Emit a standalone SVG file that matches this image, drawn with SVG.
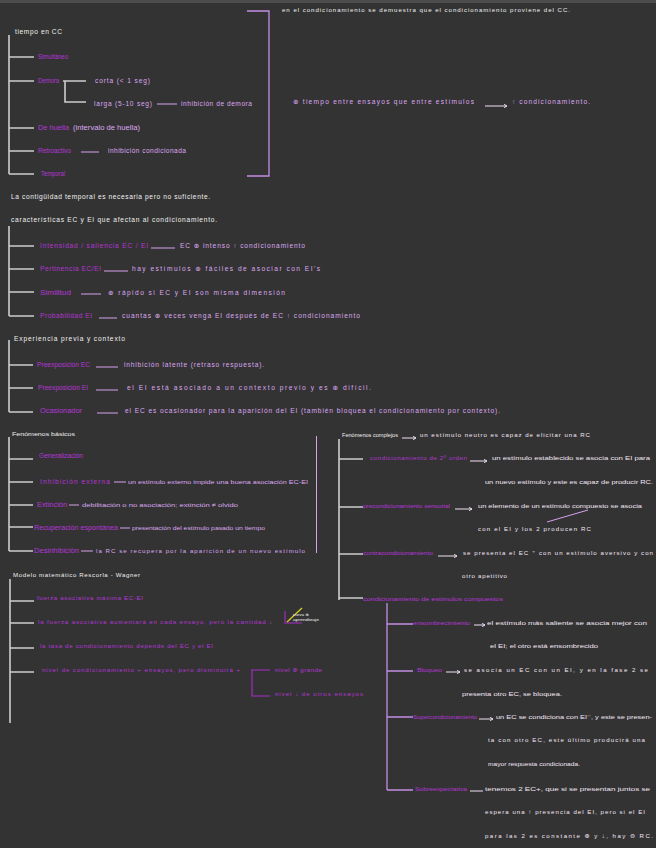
<svg xmlns="http://www.w3.org/2000/svg" width="656" height="848" viewBox="0 0 656 848">
<defs>
<style>
text{font-family:"Liberation Sans","DejaVu Sans",sans-serif;font-size:6.6px}
.w{fill:#f0f0f0}
.p{fill:#b435d6}
.k{fill:#dca8f0}
.l{fill:#f3e8f5}
.s{font-size:6.1px}
.t{stroke:#cdcdcd;stroke-width:1.6;fill:none}
.b{stroke:#c48fe4;stroke-width:1.3;fill:none}
.u{stroke:#d8a2ec;stroke-width:1;fill:none}
.v{stroke:#f0e2f3;stroke-width:1;fill:none}
.m{stroke:#a92ccb;stroke-width:1.1;fill:none}
</style>
<marker id="ah" markerWidth="4" markerHeight="4" refX="3" refY="2" orient="auto" markerUnits="userSpaceOnUse">
<path d="M0,0.3 L3,2 L0,3.7" fill="none" stroke="#f0e2f3" stroke-width="0.9"/>
</marker>
</defs>
<rect width="656" height="848" fill="#333333"/>
<rect width="656" height="3" fill="#4c4c4c"/>

<g id="connectors">
<path class="t" d="M9,35V174M9,57H34M9,81H34M9,128H34M9,151H34M9,174H34"/>
<path class="t" d="M63,81H86M65,81V102H86"/>
<path class="u" d="M157,104H177M81,152H99"/>
<path class="b" d="M247,11H269V176H247"/>
<path class="v" d="M485,106H507" marker-end="url(#ah)"/>
<path class="t" d="M9,226V316M9,246H34M9,269H34M9,292H34M9,316H34"/>
<path class="u" d="M151,248H175M104,271H128M81,294H101M99,318H117"/>
<path class="t" d="M9,340V412M9,365H33M9,388H33M9,412H33"/>
<path class="u" d="M96,367H118M96,390H118M97,413H118"/>
<path class="t" d="M9,437V551M9,459H33M9,482H33M9,505H33M9,527H33M9,551H33"/>
<path class="u" d="M114,482H126M69,505H79M120,528H130M81,551H93"/>
<path class="u" d="M316.5,436V553"/>
<path class="t" d="M339,439V600M339,459H363M339,507H363M339,554H363M339,598H363"/>
<path class="v" d="M402,438H416" marker-end="url(#ah)"/>
<path class="v" d="M470,461H487" marker-end="url(#ah)"/>
<path class="v" d="M455,509H472" marker-end="url(#ah)"/>
<path class="v" d="M438,556H457" marker-end="url(#ah)"/>
<path class="u" d="M547,522L588,510"/>
<path class="b" d="M387,603V790M387,624H413M387,671H413M387,717H413M387,790H413"/>
<path class="v" d="M474,625H485" marker-end="url(#ah)"/>
<path class="v" d="M446,672H460" marker-end="url(#ah)"/>
<path class="v" d="M479,719H493" marker-end="url(#ah)"/>
<path class="v" d="M470,791H483"/>
<path class="t" d="M10,579V723M10,601H34M10,623H34M10,648H34M10,672H34"/>
<path class="m" d="M251,670H270M252,670V696H270"/>
<path class="m" d="M285,611V623H302"/>
<path d="M287,622L302,608" stroke="#d6cf2a" stroke-width="1.3" fill="none"/>
</g>

<g id="note-top"><text class="w s" x="282" y="12" textLength="288" lengthAdjust="spacing">en el condicionamiento se demuestra que el condicionamiento proviene del CC.</text></g>

<g id="tiempo-cc"><text class="w" x="15" y="34" textLength="47" lengthAdjust="spacing">tiempo en CC</text></g>
<g id="simultaneo"><text class="p" x="38" y="59" textLength="30" lengthAdjust="spacingAndGlyphs">Simultáneo</text></g>
<g id="demora"><text class="p" x="38" y="83" textLength="21" lengthAdjust="spacingAndGlyphs">Demora</text></g>
<g id="corta"><text class="k" x="95" y="83" textLength="55" lengthAdjust="spacing">corta  (&lt; 1 seg)</text></g>
<g id="larga">
<text class="k" x="94" y="106" textLength="58" lengthAdjust="spacing">larga  (5-10 seg)</text>
<text class="k" x="181" y="106" textLength="71" lengthAdjust="spacing">inhibición de demora</text>
</g>
<g id="huella">
<text class="p" x="38" y="130" textLength="31" lengthAdjust="spacingAndGlyphs">De huella</text>
<text class="k" x="73" y="130" textLength="67" lengthAdjust="spacingAndGlyphs">(intervalo de huella)</text>
</g>
<g id="retroactivo">
<text class="p" x="38" y="153" textLength="33" lengthAdjust="spacingAndGlyphs">Retroactivo</text>
<text class="k" x="108" y="153" textLength="78" lengthAdjust="spacing">inhibición condicionada</text>
</g>
<g id="temporal"><text class="p" x="41" y="176" textLength="24" lengthAdjust="spacingAndGlyphs">Temporal</text></g>
<g id="tiempo-ensayos">
<text class="k" x="293" y="104" textLength="181" lengthAdjust="spacing">⊕ tiempo entre ensayos que entre estímulos</text>
<text class="k" x="512" y="104" textLength="78" lengthAdjust="spacing">↑ condicionamiento.</text>
</g>

<g id="contiguidad"><text class="w" x="11" y="199" textLength="199" lengthAdjust="spacing">La contigüidad temporal es necesaria pero no suficiente.</text></g>
<g id="caracteristicas"><text class="w" x="11" y="222" textLength="206" lengthAdjust="spacing">características EC y EI que afectan al condicionamiento.</text></g>
<g id="intensidad">
<text class="p" x="40" y="248" textLength="108" lengthAdjust="spacing">Intensidad / saliencia  EC / EI</text>
<text class="k" x="180" y="248" textLength="125" lengthAdjust="spacing">EC ⊕ intenso ↑ condicionamiento</text>
</g>
<g id="pertinencia">
<text class="p" x="40" y="271" textLength="61" lengthAdjust="spacing">Pertinencia  EC/EI</text>
<text class="k" x="132" y="271" textLength="188" lengthAdjust="spacing">hay estímulos ⊕ fáciles de asociar con EI's</text>
</g>
<g id="similitud">
<text class="p" x="40" y="295" textLength="31" lengthAdjust="spacingAndGlyphs">Similitud</text>
<text class="k" x="108" y="295" textLength="177" lengthAdjust="spacing">⊕ rápido si EC y EI son misma dimensión</text>
</g>
<g id="probabilidad">
<text class="p" x="40" y="318" textLength="52" lengthAdjust="spacing">Probabilidad EI</text>
<text class="k" x="122" y="318" textLength="238" lengthAdjust="spacing">cuantas ⊕ veces venga EI después de EC ↑ condicionamiento</text>
</g>

<g id="experiencia"><text class="w" x="14" y="341" textLength="111" lengthAdjust="spacing">Experiencia  previa  y  contexto</text></g>
<g id="preexp-ec">
<text class="p" x="37" y="367" textLength="53" lengthAdjust="spacingAndGlyphs">Preexposición  EC</text>
<text class="k" x="124" y="367" textLength="140" lengthAdjust="spacing">inhibición latente (retraso respuesta).</text>
</g>
<g id="preexp-ei">
<text class="p" x="38" y="390" textLength="50" lengthAdjust="spacingAndGlyphs">Preexposición  EI</text>
<text class="k" x="127" y="390" textLength="244" lengthAdjust="spacing">el EI está asociado a un contexto previo y es ⊕ difícil.</text>
</g>
<g id="ocasionador">
<text class="p" x="40" y="413" textLength="42" lengthAdjust="spacingAndGlyphs">Ocasionador</text>
<text class="k" x="125" y="413" textLength="375" lengthAdjust="spacing">el EC es ocasionador para la aparición del EI (también bloquea el condicionamiento por contexto).</text>
</g>

<g id="basicos"><text class="w s" x="12" y="436" textLength="63" lengthAdjust="spacingAndGlyphs">Fenómenos básicos</text></g>
<g id="generalizacion"><text class="p" x="39" y="458" textLength="44" lengthAdjust="spacingAndGlyphs">Generalización</text></g>
<g id="inhibicion-externa">
<text class="p" x="40" y="484" textLength="70" lengthAdjust="spacing">Inhibición  externa</text>
<text class="k s" x="128" y="484" textLength="180" lengthAdjust="spacingAndGlyphs">un estímulo externo impide una buena asociación EC-EI</text>
</g>
<g id="extincion">
<text class="p" x="37" y="507" textLength="30" lengthAdjust="spacingAndGlyphs">Extinción</text>
<text class="k s" x="82" y="507" textLength="156" lengthAdjust="spacingAndGlyphs">debilitación o no asociación; extinción ≠ olvido</text>
</g>
<g id="recuperacion">
<text class="p" x="34" y="530" textLength="84" lengthAdjust="spacingAndGlyphs">Recuperación  espontánea</text>
<text class="k s" x="132" y="530" textLength="133" lengthAdjust="spacingAndGlyphs">presentación del estímulo pasado un tiempo</text>
</g>
<g id="desinhibicion">
<text class="p" x="34" y="553" textLength="45" lengthAdjust="spacingAndGlyphs">Desinhibición</text>
<text class="k s" x="96" y="553" textLength="209" lengthAdjust="spacing">la RC se recupera por la aparición de un nuevo estímulo</text>
</g>

<g id="complejos">
<text class="w s" x="342" y="437" textLength="56" lengthAdjust="spacingAndGlyphs">Fenómenos complejos</text>
<text class="l s" x="420" y="437" textLength="170" lengthAdjust="spacing">un estímulo neutro es capaz de elicitar una RC</text>
</g>
<g id="segundo-orden">
<text class="p s" x="370" y="460" textLength="97" lengthAdjust="spacing">condicionamiento de 2º orden</text>
<text class="l s" x="492" y="460" textLength="158" lengthAdjust="spacingAndGlyphs">un estímulo establecido se asocia con EI para</text>
<text class="l s" x="485" y="484" textLength="168" lengthAdjust="spacingAndGlyphs">un nuevo estímulo y este es capaz de producir RC.</text>
</g>
<g id="precondicionamiento">
<text class="p s" x="363" y="508" textLength="87" lengthAdjust="spacingAndGlyphs">precondicionamiento  sensorial</text>
<text class="l s" x="478" y="508" textLength="164" lengthAdjust="spacingAndGlyphs">un elemento de un estímulo compuesto se asocia</text>
<text class="l s" x="478" y="531" textLength="113" lengthAdjust="spacing">con el EI y los 2 producen RC</text>
</g>
<g id="contracondicionamiento">
<text class="p s" x="363" y="555" textLength="70" lengthAdjust="spacingAndGlyphs">contracondicionamiento</text>
<text class="l s" x="463" y="555" textLength="190" lengthAdjust="spacing">se presenta el EC ⁺ con un estímulo aversivo y con</text>
<text class="l s" x="462" y="578" textLength="45" lengthAdjust="spacing">otro apetitivo</text>
</g>
<g id="compuestos"><text class="p s" x="363" y="601" textLength="140" lengthAdjust="spacingAndGlyphs">condicionamiento de estímulos compuestos</text></g>
<g id="ensombrecimiento">
<text class="p s" x="413" y="625" textLength="57" lengthAdjust="spacingAndGlyphs">ensombrecimiento</text>
<text class="l s" x="487" y="625" textLength="160" lengthAdjust="spacingAndGlyphs">el estímulo más saliente se asocia mejor con</text>
<text class="l s" x="490" y="648" textLength="108" lengthAdjust="spacingAndGlyphs">el EI; el otro está ensombrecido</text>
</g>
<g id="bloqueo">
<text class="p s" x="417" y="672" textLength="25" lengthAdjust="spacingAndGlyphs">Bloqueo</text>
<text class="l s" x="464" y="672" textLength="184" lengthAdjust="spacing">se asocia un EC con un EI, y en la fase 2 se</text>
<text class="l s" x="462" y="696" textLength="100" lengthAdjust="spacingAndGlyphs">presenta otro EC, se bloquea.</text>
</g>
<g id="supercondicionamiento">
<text class="p s" x="413" y="719" textLength="64" lengthAdjust="spacingAndGlyphs">Supercondicionamiento</text>
<text class="l s" x="496" y="719" textLength="156" lengthAdjust="spacingAndGlyphs">un EC se condiciona con EI⁻, y este se presen-</text>
<text class="l s" x="488" y="742" textLength="157" lengthAdjust="spacing">ta con otro EC, este último producirá una</text>
<text class="l s" x="488" y="766" textLength="92" lengthAdjust="spacingAndGlyphs">mayor respuesta condicionada.</text>
</g>
<g id="sobreexpectativa">
<text class="p s" x="415" y="791" textLength="52" lengthAdjust="spacingAndGlyphs">Sobreexpectativa</text>
<text class="l s" x="485" y="791" textLength="165" lengthAdjust="spacingAndGlyphs">tenemos 2 EC+, que si se presentan juntos se</text>
<text class="l s" x="485" y="814" textLength="160" lengthAdjust="spacing">espera una ↑ presencia del EI, pero si el EI</text>
<text class="l s" x="485" y="838" textLength="168" lengthAdjust="spacing">para las 2 es constante ⊕ y ↓, hay ⊖ RC.</text>
</g>

<g id="rescorla"><text class="w s" x="13" y="577" textLength="127" lengthAdjust="spacing">Modelo  matemático  Rescorla - Wagner</text></g>
<g id="fuerza-maxima"><text class="p s" x="37" y="600" textLength="106" lengthAdjust="spacing">fuerza asociativa máxima EC-EI</text></g>
<g id="fuerza-aumenta">
<text class="p s" x="38" y="624" textLength="234" lengthAdjust="spacing">la fuerza asociativa aumentará en cada ensayo, pero la cantidad ↓</text>
<text class="w" x="293" y="616" style="font-size:3.6px" textLength="16" lengthAdjust="spacingAndGlyphs">curva ⊕</text>
<text class="w" x="293" y="621" style="font-size:3.6px" textLength="26" lengthAdjust="spacingAndGlyphs">aprendizaje</text>
</g>
<g id="tasa"><text class="p s" x="40" y="648" textLength="173" lengthAdjust="spacing">la tasa de condicionamiento depende del EC y el EI</text></g>
<g id="nivel">
<text class="p s" x="42" y="672" textLength="198" lengthAdjust="spacing">nivel de condicionamiento + ensayos, pero disminuirá +</text>
<text class="p s" x="275" y="672" textLength="47" lengthAdjust="spacing">nivel ⊕ grande</text>
<text class="p s" x="275" y="696" textLength="88" lengthAdjust="spacing">nivel ↓ de otros ensayos</text>
</g>
</svg>
